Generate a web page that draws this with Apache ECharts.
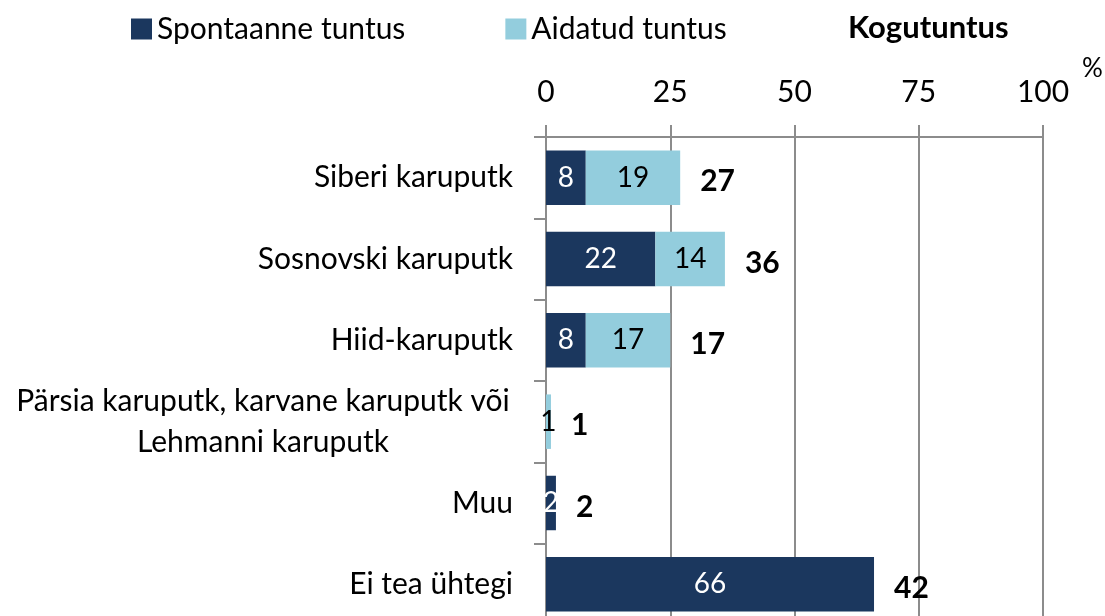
<!DOCTYPE html>
<html>
<head>
<meta charset="utf-8">
<script src="https://cdn.jsdelivr.net/npm/echarts@6/dist/echarts.min.js"></script>
<style>html,body{margin:0;padding:0;background:#fff;overflow:hidden}#c{width:1105px;height:640px}</style>
</head>
<body>
<div id="c"></div>
<script>
const categories = ['Siberi karuputk', 'Sosnovski karuputk', 'Hiid-karuputk', 'Pärsia karuputk, karvane karuputk või\nLehmanni karuputk', 'Muu', 'Ei tea ühtegi'];
const spontaneous = [8, 22, 8, null, 2, 66];
const aided = [19, 14, 17, 1, null, null];
const totals = [27, 36, 17, 1, 2, 42];
const xTicks = [0, 25, 50, 75, 100];
const seriesNames = ['Spontaanne tuntus', 'Aidatud tuntus'];
const totalTitle = 'Kogutuntus';

const FONT = 'Lato';
const DARK = '#1b375e', LIGHT = '#93cddd', GRID = '#8c8c8c';

const chart = echarts.init(document.getElementById('c'), null, {renderer: 'canvas'});
chart.setOption({
  animation: false,
  textStyle: {fontFamily: FONT},
  title: {
    text: totalTitle, left: 848, top: 12, padding: 0,
    textStyle: {fontFamily: FONT, fontSize: 31, fontWeight: 'bold', color: '#000'}
  },
  legend: {
    data: seriesNames, left: 131, top: 14, padding: 0, itemWidth: 21, itemHeight: 21, itemGap: 100,
    icon: 'rect',
    textStyle: {fontFamily: FONT, fontSize: 30, color: '#000'}
  },
  graphic: [{
    type: 'text', left: 1082, top: 56,
    style: {text: '%', fontFamily: FONT, fontSize: 26, fill: '#000'}
  }],
  grid: {left: 546, right: 62, top: 137, height: 488, containLabel: false},
  xAxis: {
    type: 'value', position: 'top', min: xTicks[0], max: xTicks[xTicks.length - 1], interval: 25,
    axisLine: {show: true, lineStyle: {color: GRID, width: 2}},
    axisTick: {show: true, length: 12, lineStyle: {color: GRID, width: 2}},
    splitLine: {show: true, lineStyle: {color: GRID, width: 2}},
    axisLabel: {fontFamily: FONT, fontSize: 30, color: '#000', margin: 30}
  },
  yAxis: {
    type: 'category', inverse: true, data: categories,
    axisLine: {show: true, lineStyle: {color: GRID, width: 2}},
    axisTick: {show: true, length: 12, lineStyle: {color: GRID, width: 2}},
    axisLabel: {
      fontFamily: FONT, fontSize: 30, color: '#000', margin: 33, lineHeight: 41,
      formatter: function (v) {
        if (v.indexOf('\n') >= 0) {
          return v.split('\n').map(s => '{c|' + s + '}').join('\n');
        }
        return v;
      },
      rich: {c: {fontFamily: FONT, fontSize: 30, color: '#000', width: 500, align: 'center', lineHeight: 41}}
    }
  },
  series: [
    {
      name: seriesNames[0], type: 'bar', stack: 's', data: spontaneous, barCategoryGap: '33%',
      itemStyle: {color: DARK},
      label: {show: true, position: 'inside', color: '#fff', fontFamily: FONT, fontSize: 28}
    },
    {
      name: seriesNames[1], type: 'bar', stack: 's', data: aided, barCategoryGap: '33%',
      itemStyle: {color: LIGHT},
      label: {show: true, position: 'inside', color: '#000', fontFamily: FONT, fontSize: 28}
    },
    {
      name: totalTitle, type: 'bar', stack: 's', data: totals.map(() => 0), barCategoryGap: '33%',
      silent: true, itemStyle: {color: 'transparent'},
      label: {
        show: true, position: 'right', distance: 20, color: '#000', fontFamily: FONT,
        fontSize: 30, fontWeight: 'bold', offset: [0, 4],
        formatter: p => String(totals[p.dataIndex])
      }
    }
  ]
});
</script>
</body>
</html>
